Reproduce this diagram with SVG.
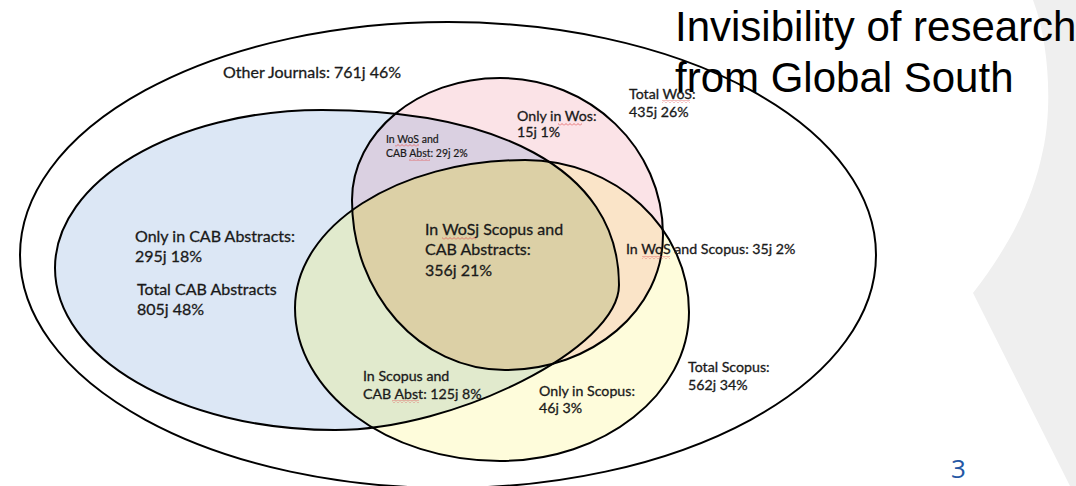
<svg xmlns="http://www.w3.org/2000/svg" width="1076" height="486" viewBox="0 0 1076 486">
  <style>
    .edge { fill: none; stroke: #000; stroke-width: 2; }
    .lbl { font-family: Lato, "Liberation Sans", sans-serif; font-size: 16px; fill: #1a1a1a; stroke: #1a1a1a; stroke-width: 0.3; }
    .m { font-size: 14.2px; }
    .sm { font-family: Lato, "Liberation Sans", sans-serif; font-size: 10.5px; fill: #1a1a1a; stroke: #1a1a1a; stroke-width: 0.2; }
    .title { font-family: "Liberation Sans", Arial, sans-serif; font-size: 42px; fill: #000; }
    .pg { font-family: "Open Sans", "Liberation Sans", sans-serif; font-size: 26px; fill: #2457a4; }
  </style>
  <defs>
    <path id="p-cab" d="M55,268 C55,181 175,110 322,110 C490,110 619,165 619,285 C619,348 455,430 335,430 C180,430 55,357 55,268 Z"/>
    <path id="p-wos" d="M352,200 C352,133 418,78 500,78 C590,78 663,148 663,235 C663,310 592,370 505,370 C420,370 352,294 352,200 Z"/>
    <path id="p-scopus" d="M295,308 C295,226 398,160 525,160 C615,160 689,228 689,312 C689,394 604,461 500,461 C387,461 295,392 295,308 Z"/>
    <clipPath id="c-cab"><use href="#p-cab"/></clipPath>
    <clipPath id="c-wos"><use href="#p-wos"/></clipPath>
    <pattern id="squig" width="4" height="3" patternUnits="userSpaceOnUse">
      <path d="M0,2.5 L2,0.5 L4,2.5" fill="none" stroke="#e05a5a" stroke-width="0.8"/>
    </pattern>
  </defs>
  <rect width="1076" height="486" fill="#ffffff"/>
  <path id="bg-shape" d="M1033,0 C1050,45 1052,110 1043,150 C1033,200 1010,245 973,293 L1070,486 L1076,486 L1076,0 Z" fill="#efefef"/>

  <g id="outer">
    <ellipse cx="448" cy="255" rx="428" ry="233" fill="#ffffff" stroke="#000" stroke-width="2"/>
  </g>

  <g id="region-fills">
    <use href="#p-cab" fill="#dce7f5"/>
    <use href="#p-wos" fill="#fbe3e7"/>
    <use href="#p-scopus" fill="#fefcdb"/>
    <g clip-path="url(#c-cab)"><use href="#p-wos" fill="#dad0e1"/></g>
    <g clip-path="url(#c-cab)"><use href="#p-scopus" fill="#e1eacd"/></g>
    <g clip-path="url(#c-wos)"><use href="#p-scopus" fill="#fae4c8"/></g>
    <g clip-path="url(#c-cab)"><g clip-path="url(#c-wos)"><use href="#p-scopus" fill="#dcd0a6"/></g></g>
  </g>

  <g id="cab"><use href="#p-cab" class="edge"/></g>
  <g id="wos"><use href="#p-wos" class="edge"/></g>
  <g id="scopus"><use href="#p-scopus" class="edge"/></g>

  <g id="labels">
    <g id="lbl-other"><text class="lbl" x="223" y="78">Other Journals: 761j 46%</text></g>
    <g id="lbl-onlywos"><text class="lbl m" x="517" y="121">Only in Wos:</text><text class="lbl m" x="517" y="137">15j 1%</text></g>
    <g id="lbl-totalwos"><text class="lbl m" x="629" y="99">Total WoS:</text><text class="lbl m" x="629" y="117">435j 26%</text></g>
    <g id="lbl-woscab"><text class="sm" x="386" y="143">In WoS and</text><text class="sm" x="386" y="157">CAB Abst: 29j 2%</text></g>
    <g id="lbl-onlycab"><text class="lbl" x="135" y="242">Only in CAB Abstracts:</text><text class="lbl" x="135" y="262">295j 18%</text></g>
    <g id="lbl-totalcab"><text class="lbl" x="137" y="295">Total CAB Abstracts</text><text class="lbl" x="137" y="315">805j 48%</text></g>
    <g id="lbl-all"><text class="lbl" x="425" y="235">In WoSj Scopus and</text><text class="lbl" x="425" y="255">CAB Abstracts:</text><text class="lbl" x="425" y="276">356j 21%</text></g>
    <g id="lbl-wosscopus"><text class="lbl m" x="626" y="254">In WoS and Scopus: 35j 2%</text></g>
    <g id="lbl-scopuscab"><text class="lbl m" x="363" y="381">In Scopus and</text><text class="lbl m" x="363" y="399">CAB Abst: 125j 8%</text></g>
    <g id="lbl-onlyscopus"><text class="lbl m" x="539" y="396">Only in Scopus:</text><text class="lbl m" x="539" y="413">46j 3%</text></g>
    <g id="lbl-totalscopus"><text class="lbl m" x="688" y="372">Total Scopus:</text><text class="lbl m" x="688" y="390">562j 34%</text></g>
  </g>

  <g id="spellcheck">
    <rect x="558" y="123" width="24" height="3" fill="url(#squig)"/>
    <rect x="662" y="100" width="28" height="3" fill="url(#squig)"/>
    <rect x="395" y="144" width="24" height="3" fill="url(#squig)"/>
    <rect x="409" y="158" width="21" height="3" fill="url(#squig)"/>
    <rect x="442" y="237" width="34" height="3" fill="url(#squig)"/>
    <rect x="642" y="256" width="28" height="3" fill="url(#squig)"/>
    <rect x="392" y="400" width="27" height="3" fill="url(#squig)"/>
  </g>

  <g id="title">
    <text class="title" x="675" y="41">Invisibility of research</text>
    <text class="title" x="675" y="92">from Global South</text>
  </g>
  <text class="pg" x="951" y="478">3</text>
</svg>
